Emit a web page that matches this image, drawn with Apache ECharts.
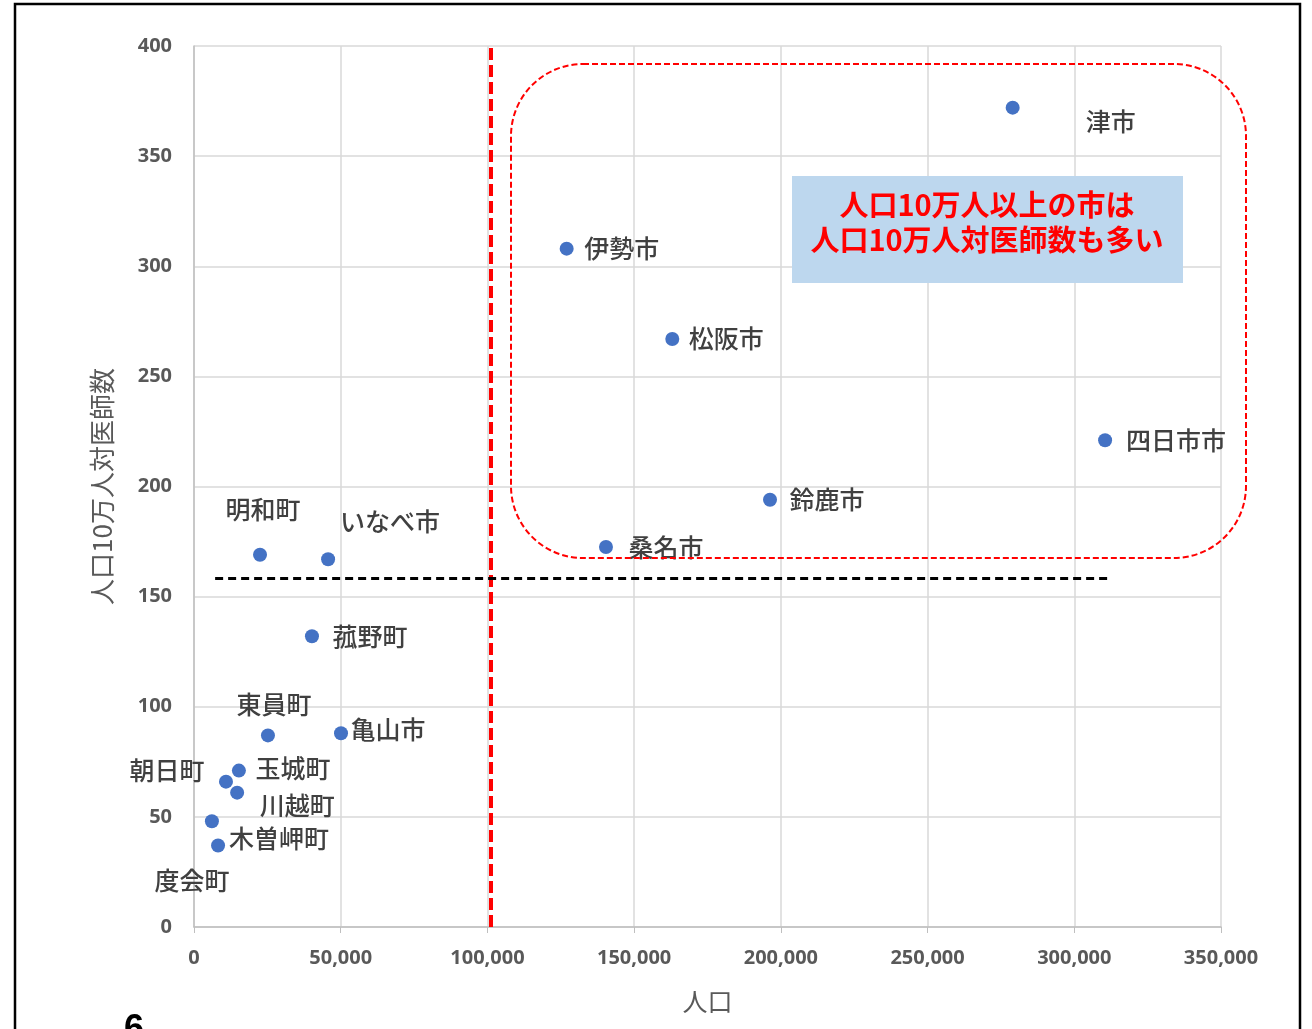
<!DOCTYPE html>
<html>
<head>
<meta charset="utf-8">
<script src="https://cdn.jsdelivr.net/npm/echarts@6/dist/echarts.min.js"></script>
<style>
  html, body { margin: 0; padding: 0; background: #fff; }
  #chart { width: 1312px; height: 1029px; }
</style>
</head>
<body>
<div id="chart"></div>
<script>
  // 市町名・人口・人口10万人対医師数
  const names = ['津市', '伊勢市', '松阪市', '四日市市', '鈴鹿市', '桑名市', '明和町', 'いなべ市',
    '菰野町', '東員町', '亀山市', '玉城町', '朝日町', '川越町', '度会町', '木曽岬町'];
  const population = [279000, 127000, 163000, 310500, 196300, 140400, 22500, 45700,
    40200, 25200, 50100, 15300, 10900, 14700, 6100, 8200];
  const doctors = [372, 308, 267, 221, 194, 172.5, 169, 167,
    132, 87, 88, 71, 66, 61, 48, 37];

  // ラベル位置（点からのずれ, px）
  const labelShift = {
    '津市': [98, 14], '伊勢市': [55, 0], '松阪市': [54, 0], '四日市市': [71, 0],
    '鈴鹿市': [57, 0], '桑名市': [60, 0], '明和町': [3, -45], 'いなべ市': [62, -38],
    '菰野町': [58, 0], '東員町': [6, -31], '亀山市': [47, -4], '玉城町': [54, -2],
    '朝日町': [-59, -11], '川越町': [60, 13], '度会町': [-20, 59], '木曽岬町': [61, -7]
  };

  const chart = echarts.init(document.getElementById('chart'));

  const points = names.map((n, i) => ({
    name: n,
    value: [population[i], doctors[i]],
    label: { offset: labelShift[n] }
  }));

  const option = {
    animation: false,
    grid: { left: 194, right: 91, top: 46, bottom: 102 },
    xAxis: {
      type: 'value',
      min: 0,
      max: 350000,
      interval: 50000,
      name: '人口',
      nameLocation: 'middle',
      nameGap: 62,
      nameTextStyle: { fontSize: 25, color: '#595959', fontFamily: 'Noto Sans CJK JP' },
      axisLine: { show: true, lineStyle: { color: '#BFBFBF', width: 1.5 } },
      axisTick: { show: true, length: 6, lineStyle: { color: '#BFBFBF' } },
      axisLabel: {
        margin: 21,
        fontSize: 20,
        fontWeight: 'bold',
        color: '#595959',
        fontFamily: 'Open Sans',
        formatter: (v) => v.toLocaleString('en-US')
      },
      splitLine: { show: true, lineStyle: { color: '#D9D9D9', width: 1.5 } }
    },
    yAxis: {
      type: 'value',
      min: 0,
      max: 400,
      interval: 50,
      name: '人口10万人対医師数',
      nameLocation: 'middle',
      nameGap: 79,
      nameTextStyle: { fontSize: 26, color: '#595959', fontFamily: 'Noto Sans CJK JP' },
      axisLine: { show: true, lineStyle: { color: '#BFBFBF', width: 1.5 } },
      axisTick: { show: false },
      axisLabel: {
        margin: 22,
        fontSize: 20,
        fontWeight: 'bold',
        color: '#595959',
        fontFamily: 'Open Sans'
      },
      splitLine: { show: true, lineStyle: { color: '#D9D9D9', width: 1.5 } }
    },
    series: [
      {
        type: 'scatter',
        symbol: 'circle',
        symbolSize: 14,
        itemStyle: { color: '#4472C4', opacity: 1 },
        label: {
          show: true,
          position: 'inside',
          formatter: '{b}',
          fontSize: 25,
          fontWeight: 500,
          color: '#404040',
          fontFamily: 'Noto Sans CJK JP'
        },
        emphasis: { disabled: true },
        data: points,
        markLine: {
          silent: true,
          symbol: 'none',
          label: { show: false },
          data: [
            { xAxis: 101000, lineStyle: { color: '#FF0000', width: 4, type: [12, 5] } },
            [
              { coord: [7200, 158.5], lineStyle: { color: '#000000', width: 3, type: [8, 5] } },
              { coord: [311500, 158.5] }
            ]
          ]
        }
      }
    ],
    graphic: [
      {
        type: 'rect',
        z: 50,
        shape: { x: 511, y: 64, width: 735, height: 494, r: 72 },
        style: { fill: 'none', stroke: '#FF0000', lineWidth: 2, lineDash: [6, 3] }
      },
      {
        type: 'rect',
        z: 50,
        shape: { x: 792, y: 176, width: 391, height: 107 },
        style: { fill: '#BDD7EE' }
      },
      {
        type: 'text',
        z: 51,
        x: 987,
        y: 222,
        style: {
          text: '人口10万人以上の市は\n人口10万人対医師数も多い',
          fill: '#FF0000',
          font: 'bold 29px "Noto Sans CJK JP"',
          align: 'center',
          verticalAlign: 'middle',
          lineHeight: 35
        }
      },
      {
        type: 'rect',
        z: 60,
        shape: { x: 15, y: 4, width: 1285, height: 1060 },
        style: { fill: 'none', stroke: '#000000', lineWidth: 2.5 }
      },
      {
        type: 'text',
        z: 60,
        x: 124,
        y: 1012,
        style: { text: '6', fill: '#000', font: 'bold 36px "Liberation Sans"' }
      }
    ]
  };

  chart.setOption(option);
</script>
</body>
</html>
